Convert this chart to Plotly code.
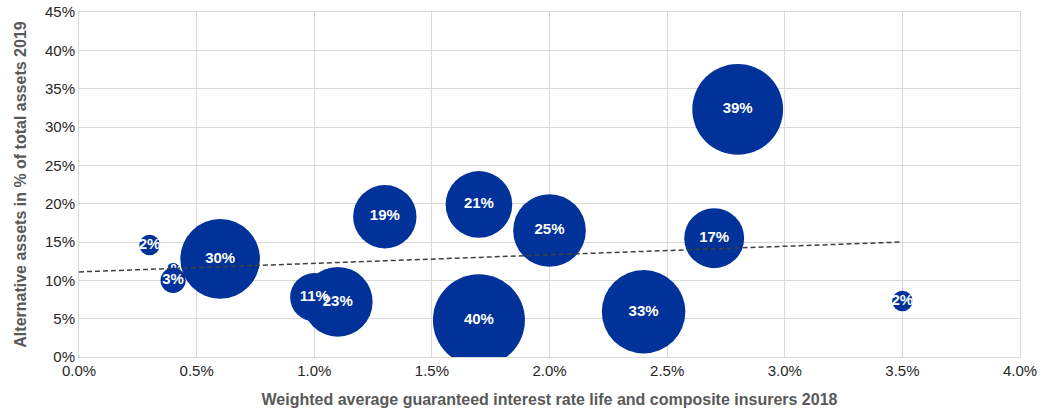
import plotly.graph_objects as go

# guaranteed interest rate (%), alternative assets share (%), bubble value (%)
rate = [0.4, 0.3, 0.4, 0.6, 1.0, 1.1, 1.3, 1.7, 1.7, 2.0, 2.4, 2.7, 2.8, 3.5]
alt_assets = [11.3, 14.6, 10.0, 12.8, 7.8, 7.2, 18.3, 19.9, 4.8, 16.5, 5.9, 15.5, 32.3, 7.3]
bubble_val = [1, 2, 3, 30, 11, 23, 19, 21, 40, 25, 33, 17, 39, 2]
labels = [f"{v}%" for v in bubble_val]

trend_x = [0.0, 3.5]
trend_y = [11.1, 15.0]

blue = "#003299"
font_family = "Liberation Sans, Arial, sans-serif"

fig = go.Figure()

# first point in its own trace so the 3% bubble is drawn over its label
for sl in (slice(0, 1), slice(1, None)):
    fig.add_trace(go.Scatter(
        x=rate[sl], y=alt_assets[sl], mode="markers+text",
        text=labels[sl], textposition="middle center",
        textfont=dict(color="white", size=15, family=font_family, weight="bold"),
        marker=dict(size=bubble_val[sl], sizemode="area", sizeref=2 / 211.4,
                    color=blue, line=dict(width=0), opacity=1),
        hoverinfo="skip",
    ))

fig.add_trace(go.Scatter(
    x=trend_x, y=trend_y, mode="lines",
    line=dict(color="#404040", width=1.5, dash="5px,3px"),
    hoverinfo="skip",
))

fig.update_layout(
    width=1048, height=412,
    margin=dict(l=79, r=28, t=12, b=55, autoexpand=False),
    plot_bgcolor="white", paper_bgcolor="white",
    showlegend=False,
    font=dict(family=font_family, size=15, color="#262626"),
    xaxis=dict(
        range=[0, 4.0], dtick=0.5, tickformat=".1f", ticksuffix="%",
        showgrid=True, gridcolor="#d9d9d9", gridwidth=1,
        zeroline=False, showline=True, linecolor="#d9d9d9", mirror=True,
        ticks="", automargin=False, ticklabeloverflow="allow",
        title=dict(text="Weighted average guaranteed interest rate life and composite insurers 2018",
                   font=dict(size=16, color="#595959", family=font_family, weight="bold"),
                   standoff=15),
    ),
    yaxis=dict(
        range=[0, 45], dtick=5, ticksuffix="%",
        showgrid=True, gridcolor="#d9d9d9", gridwidth=1,
        zeroline=False, showline=True, linecolor="#d9d9d9", mirror=True,
        ticks="", automargin=False, ticklabeloverflow="allow",
        title=dict(text="Alternative assets in % of total assets 2019",
                   font=dict(size=16, color="#595959", family=font_family, weight="bold"),
                   standoff=14),
    ),
)

# drop the default body margin so the figure sits at the page corner
fig.write_html("out.html", config={"displayModeBar": False},
               post_script="document.body.style.margin='0';")
